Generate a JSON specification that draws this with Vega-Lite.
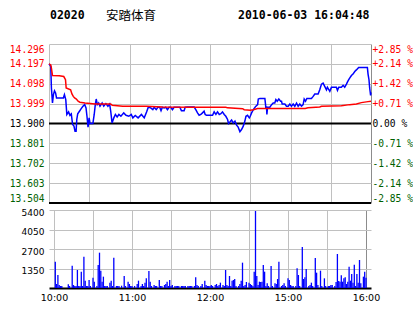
{
  "$schema": "https://vega.github.io/schema/vega-lite/v6.json",
  "background": "white",
  "padding": {"left": 9, "top": 10, "right": 0, "bottom": 0},
  "bounds": "flush",
  "spacing": 7,
  "config": {"view": {"stroke": null}, "axis": {"domain": false, "ticks": false}},
  "datasets": {
    "price": [
      {"m":0,"p":14.197},{"m":0.8,"p":14.19},{"m":1.3,"p":14.184},{"m":1.8,"p":14.077},{"m":2.6,"p":14.002},{"m":3.3,"p":14.044},{"m":4.1,"p":14.063},{"m":4.9,"p":14.052},{"m":5.6,"p":14.027},{"m":10.7,"p":14.027},{"m":11.5,"p":14.044},{"m":12.5,"p":14.019},{"m":13.3,"p":13.945},{"m":14.6,"p":13.958},{"m":15.6,"p":13.941},{"m":16.6,"p":13.948},{"m":17.6,"p":13.895},{"m":18.6,"p":13.887},{"m":19.4,"p":13.862},{"m":20.2,"p":13.862},{"m":20.7,"p":13.92},{"m":21.4,"p":13.948},{"m":22.7,"p":13.961},{"m":24,"p":13.974},{"m":25.3,"p":13.986},{"m":26.6,"p":13.994},{"m":27.6,"p":13.978},{"m":28.3,"p":13.936},{"m":29.1,"p":13.882},{"m":29.9,"p":13.928},{"m":30.6,"p":13.9},{"m":32.7,"p":13.9},{"m":33.7,"p":13.945},{"m":34.5,"p":13.994},{"m":35.2,"p":14.022},{"m":36,"p":13.994},{"m":37,"p":14.002},{"m":38,"p":13.986},{"m":39.6,"p":14.002},{"m":40.8,"p":13.986},{"m":42.4,"p":13.999},{"m":43.9,"p":13.986},{"m":45.2,"p":13.997},{"m":46,"p":13.961},{"m":47,"p":13.903},{"m":48.3,"p":13.928},{"m":49.5,"p":13.945},{"m":50.8,"p":13.933},{"m":52.1,"p":13.945},{"m":53.6,"p":13.936},{"m":55.7,"p":13.953},{"m":57.4,"p":13.941},{"m":59.5,"p":13.936},{"m":61.3,"p":13.945},{"m":62.5,"p":13.928},{"m":64.3,"p":13.94},{"m":66.4,"p":13.928},{"m":68.9,"p":13.945},{"m":71,"p":13.928},{"m":72.8,"p":13.958},{"m":74,"p":13.981},{"m":75.8,"p":13.978},{"m":77.4,"p":13.969},{"m":78.4,"p":13.981},{"m":79.9,"p":13.969},{"m":81.2,"p":13.981},{"m":82.5,"p":13.981},{"m":83.5,"p":13.964},{"m":84.5,"p":13.981},{"m":85.8,"p":13.978},{"m":87,"p":13.981},{"m":88.3,"p":13.969},{"m":89.5,"p":13.981},{"m":90.7,"p":13.981},{"m":92,"p":13.969},{"m":93.2,"p":13.981},{"m":94.5,"p":13.981},{"m":97.5,"p":13.981},{"m":98.7,"p":13.964},{"m":100.7,"p":13.964},{"m":101.5,"p":13.981},{"m":103.2,"p":13.982},{"m":108.2,"p":13.982},{"m":109.4,"p":13.969},{"m":110.7,"p":13.953},{"m":111.9,"p":13.941},{"m":113.2,"p":13.945},{"m":114.4,"p":13.953},{"m":115.6,"p":13.961},{"m":116.4,"p":13.945},{"m":117.4,"p":13.941},{"m":121.9,"p":13.941},{"m":123.1,"p":13.958},{"m":124.4,"p":13.945},{"m":125.6,"p":13.958},{"m":126.9,"p":13.945},{"m":128.1,"p":13.949},{"m":129.3,"p":13.958},{"m":130.6,"p":13.945},{"m":131.8,"p":13.936},{"m":133.1,"p":13.92},{"m":133.8,"p":13.9},{"m":134.8,"p":13.907},{"m":136.1,"p":13.917},{"m":137.3,"p":13.903},{"m":138.6,"p":13.912},{"m":139.8,"p":13.892},{"m":141,"p":13.882},{"m":142.3,"p":13.859},{"m":143.5,"p":13.87},{"m":144.8,"p":13.887},{"m":146,"p":13.912},{"m":146.8,"p":13.936},{"m":148,"p":13.941},{"m":149.3,"p":13.928},{"m":150,"p":13.936},{"m":151,"p":13.953},{"m":152.3,"p":13.969},{"m":153.2,"p":13.978},{"m":154.2,"p":13.986},{"m":155.5,"p":13.994},{"m":156,"p":14.022},{"m":157.2,"p":14.025},{"m":160.9,"p":14.025},{"m":161.4,"p":13.994},{"m":161.6,"p":13.978},{"m":162.1,"p":13.986},{"m":162.4,"p":13.945},{"m":162.9,"p":13.981},{"m":164.6,"p":13.981},{"m":165.9,"p":13.994},{"m":167.1,"p":14.002},{"m":168.3,"p":14.002},{"m":169.1,"p":14.019},{"m":170.1,"p":14.011},{"m":171.3,"p":14.022},{"m":172.6,"p":14.011},{"m":173.3,"p":14.011},{"m":173.8,"p":13.997},{"m":175.8,"p":13.997},{"m":177,"p":13.986},{"m":178.3,"p":13.986},{"m":179.5,"p":13.997},{"m":180.7,"p":13.986},{"m":182,"p":13.997},{"m":183.2,"p":13.986},{"m":184.5,"p":14.002},{"m":185.7,"p":13.986},{"m":186.9,"p":13.997},{"m":188.2,"p":13.986},{"m":189.4,"p":13.994},{"m":190.2,"p":14.022},{"m":191.2,"p":14.011},{"m":192.2,"p":14.025},{"m":195.6,"p":14.025},{"m":196.9,"p":14.035},{"m":198.1,"p":14.047},{"m":200.6,"p":14.047},{"m":201.8,"p":14.068},{"m":203.1,"p":14.096},{"m":204.3,"p":14.101},{"m":205.5,"p":14.085},{"m":206.8,"p":14.068},{"m":207.5,"p":14.081},{"m":209.3,"p":14.06},{"m":210.5,"p":14.08},{"m":211.7,"p":14.08},{"m":214.2,"p":14.081},{"m":215,"p":14.065},{"m":216,"p":14.081},{"m":217.9,"p":14.081},{"m":219.2,"p":14.09},{"m":220.4,"p":14.081},{"m":221.7,"p":14.096},{"m":222.4,"p":14.106},{"m":223.4,"p":14.118},{"m":224.1,"p":14.126},{"m":225.4,"p":14.139},{"m":226.6,"p":14.146},{"m":227.9,"p":14.159},{"m":229.1,"p":14.167},{"m":230.8,"p":14.179},{"m":237.3,"p":14.179},{"m":237.8,"p":14.146},{"m":238.5,"p":14.118},{"m":239,"p":14.077},{"m":239.4,"p":14.057},{"m":239.7,"p":14.04},{"m":240,"p":14.055}
    ],
    "avg": [
      {"m":0,"a":14.197},{"m":1.3,"a":14.192},{"m":1.8,"a":14.176},{"m":2.6,"a":14.139},{"m":7.7,"a":14.138},{"m":11,"a":14.134},{"m":12.3,"a":14.118},{"m":12.8,"a":14.077},{"m":16.1,"a":14.068},{"m":17.1,"a":14.047},{"m":18.1,"a":14.035},{"m":19.1,"a":14.027},{"m":20.4,"a":14.022},{"m":21.7,"a":14.011},{"m":23,"a":14.006},{"m":26.8,"a":14.002},{"m":34.5,"a":13.997},{"m":46,"a":13.997},{"m":47.2,"a":13.991},{"m":54.9,"a":13.986},{"m":72.8,"a":13.986},{"m":84.2,"a":13.982},{"m":109.4,"a":13.981},{"m":131.8,"a":13.981},{"m":133.1,"a":13.978},{"m":144.3,"a":13.974},{"m":145.5,"a":13.969},{"m":150,"a":13.966},{"m":152.3,"a":13.969},{"m":155.5,"a":13.975},{"m":191,"a":13.975},{"m":193,"a":13.978},{"m":201.8,"a":13.982},{"m":203.1,"a":13.986},{"m":217.9,"a":13.989},{"m":224.1,"a":13.994},{"m":229.1,"a":13.997},{"m":232.8,"a":14.004},{"m":237.8,"a":14.009},{"m":240,"a":14.011}
    ],
    "vol": [
      {"m":1,"v":1823},{"m":2,"v":277},{"m":3,"v":900},{"m":4,"v":208},{"m":5,"v":140},{"m":6,"v":140},{"m":11,"v":254},{"m":12,"v":140},{"m":14,"v":1546},{"m":15,"v":208},{"m":16,"v":140},{"m":17,"v":140},{"m":18,"v":1246},{"m":19,"v":140},{"m":20,"v":140},{"m":21,"v":1131},{"m":22,"v":140},{"m":23,"v":2170},{"m":24,"v":508},{"m":25,"v":140},{"m":26,"v":140},{"m":27,"v":554},{"m":28,"v":140},{"m":30,"v":715},{"m":31,"v":438},{"m":33,"v":140},{"m":34,"v":1592},{"m":35,"v":2446},{"m":36,"v":1200},{"m":37,"v":438},{"m":38,"v":785},{"m":39,"v":140},{"m":40,"v":140},{"m":41,"v":140},{"m":43,"v":369},{"m":44,"v":508},{"m":45,"v":140},{"m":46,"v":2100},{"m":48,"v":140},{"m":49,"v":140},{"m":50,"v":140},{"m":52,"v":160},{"m":54,"v":831},{"m":55,"v":140},{"m":57,"v":438},{"m":58,"v":277},{"m":59,"v":140},{"m":60,"v":140},{"m":62,"v":140},{"m":64,"v":277},{"m":65,"v":508},{"m":67,"v":140},{"m":68,"v":277},{"m":69,"v":140},{"m":70,"v":369},{"m":71,"v":669},{"m":73,"v":1177},{"m":74,"v":438},{"m":75,"v":140},{"m":77,"v":208},{"m":78,"v":140},{"m":79,"v":140},{"m":81,"v":554},{"m":82,"v":140},{"m":83,"v":140},{"m":85,"v":208},{"m":86,"v":277},{"m":87,"v":438},{"m":88,"v":140},{"m":89,"v":554},{"m":90,"v":140},{"m":91,"v":208},{"m":93,"v":140},{"m":94,"v":140},{"m":95,"v":140},{"m":96,"v":140},{"m":98,"v":140},{"m":99,"v":140},{"m":100,"v":140},{"m":101,"v":140},{"m":103,"v":140},{"m":104,"v":140},{"m":105,"v":140},{"m":106,"v":140},{"m":108,"v":140},{"m":109,"v":738},{"m":110,"v":208},{"m":111,"v":140},{"m":113,"v":140},{"m":114,"v":277},{"m":116,"v":508},{"m":117,"v":208},{"m":118,"v":140},{"m":119,"v":140},{"m":120,"v":140},{"m":121,"v":208},{"m":122,"v":140},{"m":124,"v":208},{"m":125,"v":277},{"m":126,"v":140},{"m":127,"v":208},{"m":128,"v":369},{"m":130,"v":208},{"m":131,"v":140},{"m":132,"v":1246},{"m":133,"v":208},{"m":134,"v":140},{"m":135,"v":831},{"m":136,"v":140},{"m":137,"v":508},{"m":138,"v":554},{"m":139,"v":623},{"m":140,"v":140},{"m":142,"v":140},{"m":143,"v":277},{"m":144,"v":508},{"m":145,"v":1754},{"m":146,"v":140},{"m":147,"v":208},{"m":148,"v":415},{"m":150,"v":369},{"m":151,"v":277},{"m":152,"v":208},{"m":153,"v":140},{"m":154,"v":1131},{"m":155,"v":5331},{"m":156,"v":831},{"m":157,"v":208},{"m":158,"v":438},{"m":159,"v":415},{"m":160,"v":438},{"m":161,"v":1592},{"m":162,"v":1131},{"m":163,"v":140},{"m":164,"v":323},{"m":165,"v":140},{"m":167,"v":1523},{"m":168,"v":140},{"m":170,"v":323},{"m":171,"v":277},{"m":172,"v":623},{"m":173,"v":1823},{"m":175,"v":140},{"m":176,"v":208},{"m":177,"v":323},{"m":178,"v":140},{"m":180,"v":669},{"m":181,"v":554},{"m":182,"v":208},{"m":183,"v":140},{"m":184,"v":140},{"m":186,"v":140},{"m":187,"v":1362},{"m":188,"v":900},{"m":189,"v":140},{"m":191,"v":2839},{"m":192,"v":623},{"m":193,"v":738},{"m":194,"v":1315},{"m":196,"v":140},{"m":197,"v":208},{"m":198,"v":369},{"m":199,"v":140},{"m":201,"v":2077},{"m":202,"v":1061},{"m":203,"v":208},{"m":205,"v":1200},{"m":206,"v":140},{"m":208,"v":669},{"m":209,"v":140},{"m":211,"v":140},{"m":212,"v":140},{"m":213,"v":208},{"m":214,"v":208},{"m":216,"v":140},{"m":217,"v":415},{"m":218,"v":2354},{"m":219,"v":485},{"m":220,"v":438},{"m":221,"v":877},{"m":222,"v":438},{"m":223,"v":669},{"m":224,"v":738},{"m":225,"v":277},{"m":226,"v":438},{"m":227,"v":1477},{"m":228,"v":508},{"m":229,"v":969},{"m":230,"v":369},{"m":231,"v":1615},{"m":232,"v":140},{"m":233,"v":969},{"m":234,"v":369},{"m":235,"v":1938},{"m":236,"v":323},{"m":238,"v":785},{"m":239,"v":1131},{"m":240,"v":715}
    ]
  },
  "vconcat": [
    {
      "width": 322,
      "height": 159,
      "resolve": {"scale": {"y": "independent"}},
      "layer": [
        {
          "data": {"values": [{"p": 13.9}, {"p": 13.504}]},
          "mark": {"type": "rule", "color": "#000000", "strokeWidth": 2},
          "encoding": {
            "y": {"field": "p", "type": "quantitative", "scale": {"domain": [13.504, 14.296], "nice": false, "zero": false}, "axis": null}
          }
        },
        {
          "data": {"name": "price"},
          "mark": {"type": "line", "color": "#0000ff", "strokeWidth": 1.5},
          "encoding": {
            "x": {"field": "m", "type": "quantitative", "scale": {"domain": [0, 240], "nice": false, "zero": false},
              "axis": {"orient": "bottom", "values": [0, 30, 60, 90, 120, 150, 180, 210, 240], "labels": false, "grid": true, "title": null,
                "gridColor": {"condition": {"test": "datum.value == 240", "value": "#8c8c8c"}, "value": "#c0c0c0"}}},
            "y": {"field": "p", "type": "quantitative", "scale": {"domain": [13.504, 14.296], "nice": false, "zero": false},
              "axis": {"orient": "left", "values": [13.504, 13.603, 13.702, 13.801, 13.9, 13.999, 14.098, 14.197, 14.296], "format": ".3f",
                "title": null, "grid": true, "gridColor": "#c0c0c0", "labelFont": "DejaVu Sans Mono", "labelFontSize": 9.6, "labelPadding": 5, "labelFlush": true, "labelOverlap": false,
                "labelColor": {"condition": [{"test": "datum.value > 13.95", "value": "#ff0000"}, {"test": "datum.value < 13.85", "value": "#005f00"}], "value": "#000000"}}}
          }
        },
        {
          "data": {"name": "avg"},
          "mark": {"type": "line", "color": "#ff0000", "strokeWidth": 1.5},
          "encoding": {
            "x": {"field": "m", "type": "quantitative"},
            "y": {"field": "a", "type": "quantitative", "scale": {"domain": [13.504, 14.296], "nice": false, "zero": false},
              "axis": {"orient": "right", "values": [13.504, 13.603, 13.702, 13.801, 13.9, 13.999, 14.098, 14.197, 14.296],
                "labelExpr": "(datum.value > 13.95 ? '+' : datum.value < 13.85 ? '-' : '\u00a0') + format(abs(datum.value / 13.9 - 1) * 100, '.2f') + ' %'",
                "title": null, "grid": false, "labelFont": "DejaVu Sans Mono", "labelFontSize": 9.6, "labelPadding": 1, "labelFlush": true, "labelAlign": "left", "labelOverlap": false,
                "labelColor": {"condition": [{"test": "datum.value > 13.95", "value": "#ff0000"}, {"test": "datum.value < 13.85", "value": "#005f00"}], "value": "#000000"}}}
          }
        },
        {
          "data": {"values": [{"label": "02020"}]},
          "mark": {"type": "text", "font": "DejaVu Sans Mono", "fontWeight": "bold", "fontSize": 11.5, "align": "left", "baseline": "middle", "color": "#000000"},
          "encoding": {"text": {"field": "label"}, "x": {"value": 1}, "y": {"value": -28}}
        },
        {
          "data": {"values": [{"label": "安踏体育"}]},
          "mark": {"type": "text", "font": "Noto Sans CJK SC", "fontSize": 12.5, "align": "left", "baseline": "middle", "color": "#000000"},
          "encoding": {"text": {"field": "label"}, "x": {"value": 57}, "y": {"value": -28}}
        },
        {
          "data": {"values": [{"label": "2010-06-03 16:04:48"}]},
          "mark": {"type": "text", "font": "DejaVu Sans Mono", "fontWeight": "bold", "fontSize": 11.5, "align": "left", "baseline": "middle", "color": "#000000"},
          "encoding": {"text": {"field": "label"}, "x": {"value": 189}, "y": {"value": -28}}
        }
      ]
    },
    {
      "width": 322,
      "height": 78,
      "data": {"name": "vol"},
      "mark": {"type": "bar", "color": "#0000ff", "width": 1.3},
      "encoding": {
        "x": {"field": "m", "type": "quantitative", "scale": {"domain": [0, 240], "nice": false, "zero": false},
          "axis": {"orient": "bottom", "values": [0, 30, 60, 90, 120, 150, 180, 210, 240], "title": null, "grid": true,
            "domain": true, "domainColor": "#000000", "domainWidth": 2,
            "gridColor": {"condition": {"test": "datum.value == 240", "value": "#8c8c8c"}, "value": "#c0c0c0"},
            "labelExpr": "datum.value == 0 ? '10:00' : datum.value == 60 ? '11:00' : datum.value == 120 ? '12:00' : datum.value == 180 ? '15:00' : datum.value == 240 ? '16:00' : ''",
            "labelFont": "DejaVu Sans", "labelFontSize": 9.5, "labelColor": "#000000", "labelPadding": 4, "labelFlush": false, "labelOverlap": false}},
        "y": {"field": "v", "type": "quantitative", "stack": null, "scale": {"domain": [0, 5400], "nice": false},
          "axis": {"orient": "left", "values": [1350, 2700, 4050, 5400], "format": "d", "title": null, "grid": true, "gridColor": "#c0c0c0",
            "labelFont": "DejaVu Sans", "labelFontSize": 9, "labelColor": "#000000", "labelPadding": 5, "labelOffset": 2, "labelFlush": false, "labelOverlap": false}}
      }
    }
  ]
}
